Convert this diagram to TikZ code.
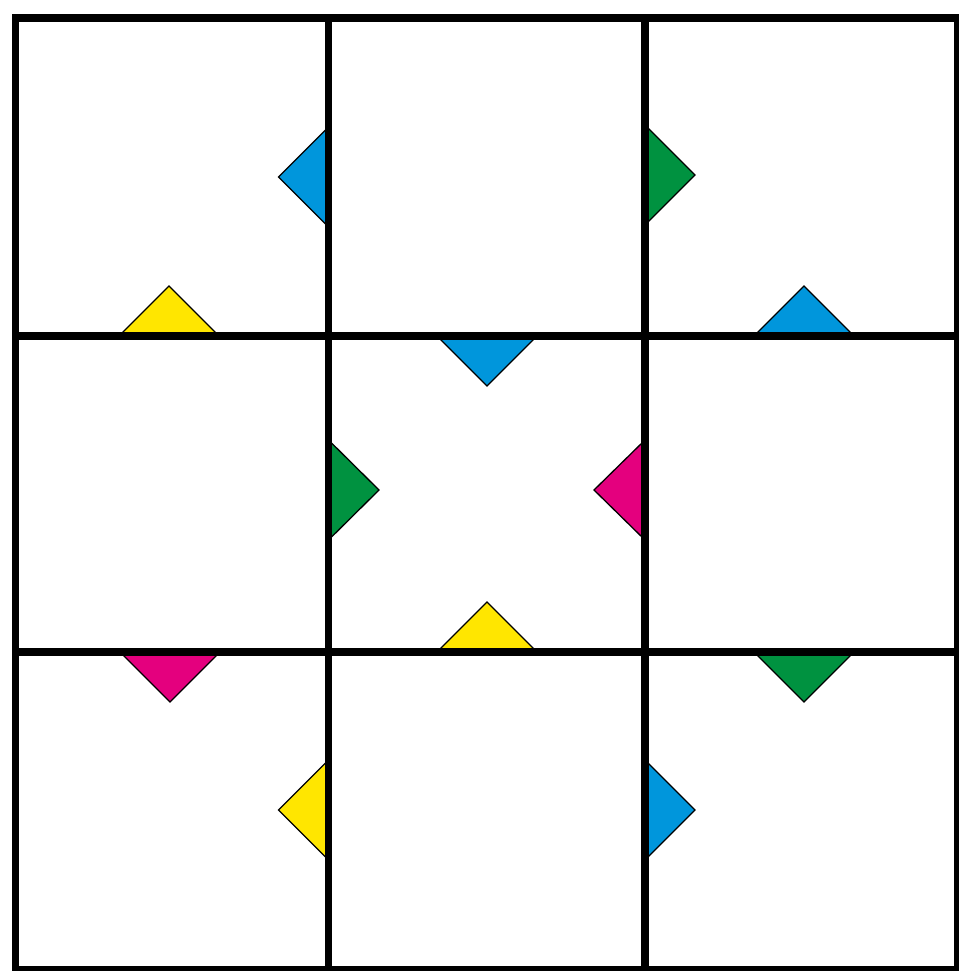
\documentclass[tikz,border=0pt]{standalone}
\definecolor{tblue}{RGB}{0,150,220}
\definecolor{tyellow}{RGB}{255,230,0}
\definecolor{tgreen}{RGB}{0,146,64}
\definecolor{tmagenta}{RGB}{228,0,126}
\begin{document}
\begin{tikzpicture}[x=1pt,y=-1pt,
  tri/.style={draw=black,line width=1.3pt,line join=miter},
  gridline/.style={draw=black,line width=7.5pt,line cap=rect}]
\useasboundingbox (0,0) rectangle (958,971);
\fill[white] (0,0) rectangle (958,971);
% triangles
\filldraw[tri,fill=tblue]    (328.5,127) -- (278.5,177) -- (328.5,227) -- cycle;
\filldraw[tri,fill=tyellow]  (119,336) -- (169,286) -- (219,336) -- cycle;
\filldraw[tri,fill=tgreen]   (645,125) -- (695,175) -- (645,225) -- cycle;
\filldraw[tri,fill=tblue]    (754,336) -- (804,286) -- (854,336) -- cycle;
\filldraw[tri,fill=tblue]    (437,336) -- (487,386) -- (537,336) -- cycle;
\filldraw[tri,fill=tgreen]   (328.5,440) -- (379,490) -- (328.5,540) -- cycle;
\filldraw[tri,fill=tmagenta] (645,440) -- (594,490) -- (645,540) -- cycle;
\filldraw[tri,fill=tyellow]  (437,652) -- (487,602) -- (537,652) -- cycle;
\filldraw[tri,fill=tmagenta] (120,652) -- (170,702) -- (220,652) -- cycle;
\filldraw[tri,fill=tyellow]  (328.5,760) -- (278.5,810) -- (328.5,860) -- cycle;
\filldraw[tri,fill=tgreen]   (754,652) -- (804,702) -- (854,652) -- cycle;
\filldraw[tri,fill=tblue]    (645,760) -- (695,810) -- (645,860) -- cycle;
% grid
\draw[gridline] (15.5,18) rectangle (958,970);
\draw[gridline] (328.5,18) -- (328.5,970);
\draw[gridline] (645,18) -- (645,970);
\draw[gridline] (15.5,336) -- (958,336);
\draw[gridline] (15.5,652) -- (958,652);
\end{tikzpicture}
\end{document}
